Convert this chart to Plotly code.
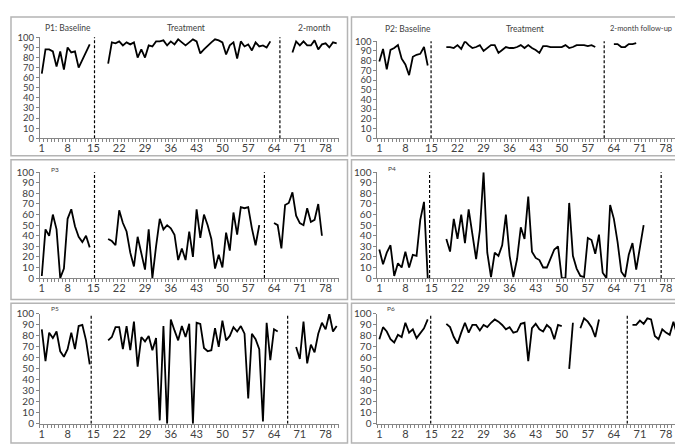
import plotly.graph_objects as go

# session tick labels shared by all panels
tick_sessions = [1, 8, 15, 22, 29, 36, 43, 50, 57, 64, 71, 78]

# P1
p1_base = [64, 88, 88, 86, 71, 86, 68, 90, 85, 86, 70, 78, 85, 93]
p1_treat = [74, 95, 94, 96, 92, 95, 93, 95, 80, 88, 80, 92, 91, 96, 96, 97, 92, 96, 93, 98,
            95, 92, 95, 98, 96, 84, 88, 92, 95, 98, 97, 95, 83, 92, 95, 79, 96, 91, 93, 87,
            95, 91, 92, 90, 96]
p1_follow = [85, 96, 92, 96, 92, 92, 97, 88, 93, 94, 90, 95, 94]
p1_starts = [1, 19, 69]
p1_phase = [15.3, 65.6]

# P2
p2_base = [79, 92, 71, 91, 93, 96, 82, 76, 65, 84, 86, 87, 94, 75]
p2_treat = [94, 94, 93, 96, 92, 100, 96, 93, 94, 96, 90, 93, 96, 96, 88, 91, 94, 93, 93, 94,
            96, 93, 96, 93, 91, 88, 95, 95, 94, 94, 94, 94, 96, 93, 94, 96, 96, 96, 95, 96, 94]
p2_follow = [97, 97, 94, 94, 97, 97, 98]
p2_starts = [1, 19, 64]
p2_phase = [14.9, 61.4]

# P3
p3_base = [2, 46, 40, 60, 46, 0, 9, 56, 65, 49, 39, 34, 40, 29]
p3_treat = [37, 35, 31, 64, 52, 44, 24, 11, 39, 23, 8, 46, 0, 30, 56, 46, 50, 47, 41, 17,
            28, 17, 44, 20, 65, 38, 60, 50, 37, 9, 22, 10, 43, 26, 62, 41, 67, 66, 67, 47, 31, 50]
p3_follow = [52, 50, 28, 69, 71, 81, 59, 52, 50, 66, 53, 55, 70, 40]
p3_starts = [1, 19, 64]
p3_phase = [15.3, 61.4]

# P4 (no follow-up data)
p4_base = [27, 13, 24, 31, 2, 14, 10, 25, 10, 22, 21, 55, 72, 0]
p4_treat = [37, 25, 56, 37, 60, 33, 65, 41, 18, 45, 100, 24, 1, 24, 21, 31, 60, 21, 1, 18,
            48, 37, 77, 25, 19, 17, 10, 10, 19, 27, 30, 0, 0, 71, 21, 9, 2, 1, 38, 36,
            23, 41, 5, 0, 69, 56, 34, 6, 1, 22, 33, 8, 29, 50]
p4_follow = []
p4_starts = [1, 19, 79]
p4_phase = [14.5, 76.7]

# P5
p5_base = [86, 57, 83, 78, 84, 66, 61, 68, 83, 68, 89, 90, 76, 54]
p5_treat = [76, 79, 88, 88, 68, 89, 67, 93, 52, 79, 75, 80, 67, 78, 3, 89, 0, 95, 85, 76,
            89, 79, 91, 0, 92, 91, 69, 66, 67, 87, 70, 94, 76, 80, 88, 84, 89, 82, 23, 82,
            77, 68, 2, 92, 58, 86, 84]
p5_follow = [70, 59, 93, 55, 72, 65, 82, 92, 86, 100, 84, 89]
p5_starts = [1, 19, 70]
p5_phase = [14.4, 67.7]

# P6 (missing sessions as None)
p6_base = [77, 88, 84, 77, 74, 81, 79, 92, 83, 86, 78, 82, 87, 95]
p6_treat = [91, 88, 79, 73, 83, 92, 83, 90, 90, 85, 90, 88, 92, 95, 93, 90, 86, 88, 83, 84,
            91, 92, 57, 87, 91, 86, 84, 90, 87, 77, 90, 89, None, 50, 92, None, 87, 96, 93, 88,
            79, 95]
p6_follow = [90, 90, 94, 91, 96, 95, 80, 77, 86, 83, 81, 93, 81]
p6_starts = [1, 19, 69]
p6_phase = [14.8, 67.6]

W, H = 683, 444
FONT = "Lato, 'Open Sans', sans-serif"
TXT = "#404040"


def series(starts, phases):
    xs, ys = [], []
    for s, vals in zip(starts, phases):
        if not vals:
            continue
        xs += list(range(s, s + len(vals))) + [None]
        ys += list(vals) + [None]
    return xs, ys


# (starts, phases, phase lines, pixel box, y tick font size)
panels = [
    (p1_starts, [p1_base, p1_treat, p1_follow], p1_phase, (31, 330, 23, 127), 9.5),
    (p2_starts, [p2_base, p2_treat, p2_follow], p2_phase, (369, 671, 27, 127), 9.5),
    (p3_starts, [p3_base, p3_treat, p3_follow], p3_phase, (31, 330, 162, 271), 10),
    (p4_starts, [p4_base, p4_treat, p4_follow], p4_phase, (369, 671, 162, 271), 10),
    (p5_starts, [p5_base, p5_treat, p5_follow], p5_phase, (31, 330, 308, 421), 10),
    (p6_starts, [p6_base, p6_treat, p6_follow], p6_phase, (369, 671, 308, 421), 10),
]

fig = go.Figure()
layout = {}
shapes = []

for i, (starts, phases, phase_lines, box, yfs) in enumerate(panels):
    n = "" if i == 0 else str(i + 1)
    xs, ys = series(starts, phases)
    fig.add_trace(go.Scatter(
        x=xs, y=ys, mode="lines", line=dict(color="black", width=1.8),
        xaxis="x" + n, yaxis="y" + n, showlegend=False, cliponaxis=False,
        connectgaps=False,
    ))
    x0, x1, top, bottom = box
    layout["xaxis" + n] = dict(
        domain=[x0 / W, x1 / W], anchor="y" + n, range=[0.5, 81.5],
        tickvals=tick_sessions, ticktext=[str(t) for t in tick_sessions],
        ticks="", showline=True, linecolor="#868686", linewidth=1,
        showgrid=False, zeroline=False, fixedrange=True,
        minor=dict(ticks="outside", ticklen=3, tick0=0.5, dtick=1, tickcolor="#868686"),
        tickfont=dict(family=FONT, size=11, color=TXT),
    )
    layout["yaxis" + n] = dict(
        domain=[1 - bottom / H, 1 - top / H], anchor="x" + n, range=[0, 100],
        dtick=10, ticks="outside", ticklen=3, tickcolor="#868686",
        showline=True, linecolor="#868686", linewidth=1,
        showgrid=False, zeroline=False, fixedrange=True,
        tickfont=dict(family=FONT, size=yfs, color=TXT),
    )
    for p in phase_lines:
        shapes.append(dict(type="line", xref="x" + n, yref="y" + n, x0=p, x1=p, y0=0, y1=101,
                           line=dict(color="black", width=1.2, dash="3px,2px")))

# panel frames
for (l, r) in [(2, 339), (343, 680)]:
    for (t, b) in [(2, 145), (149, 293), (297, 441)]:
        shapes.append(dict(type="rect", xref="paper", yref="paper",
                           x0=l / W, x1=r / W, y0=1 - b / H, y1=1 - t / H,
                           line=dict(color="#b4b4b4", width=1.5)))

labels = [
    ("P1: Baseline", 59, 13, 8.5), ("Treatment", 177, 13, 8.5), ("2-month", 306, 13, 8.5),
    ("P2: Baseline", 400, 14, 8.5), ("Treatment", 517, 14, 8.5), ("2-month follow-up", 633, 14, 7.5),
    ("P3", 46, 159, 6.5), ("P4", 384, 158, 6.5), ("P5", 46, 302, 6.5), ("P6", 383, 302, 6.5),
]
annotations = [dict(text=t, x=x / W, y=1 - y / H, xref="paper", yref="paper",
                    showarrow=False, xanchor="center", yanchor="middle",
                    font=dict(family=FONT, size=s, color=TXT))
               for t, x, y, s in labels]

fig.update_layout(
    width=W, height=H, autosize=False,
    margin=dict(l=0, r=0, t=0, b=0),
    paper_bgcolor="white", plot_bgcolor="white",
    shapes=shapes, annotations=annotations,
    **layout,
)

fig.write_html("out.html")
